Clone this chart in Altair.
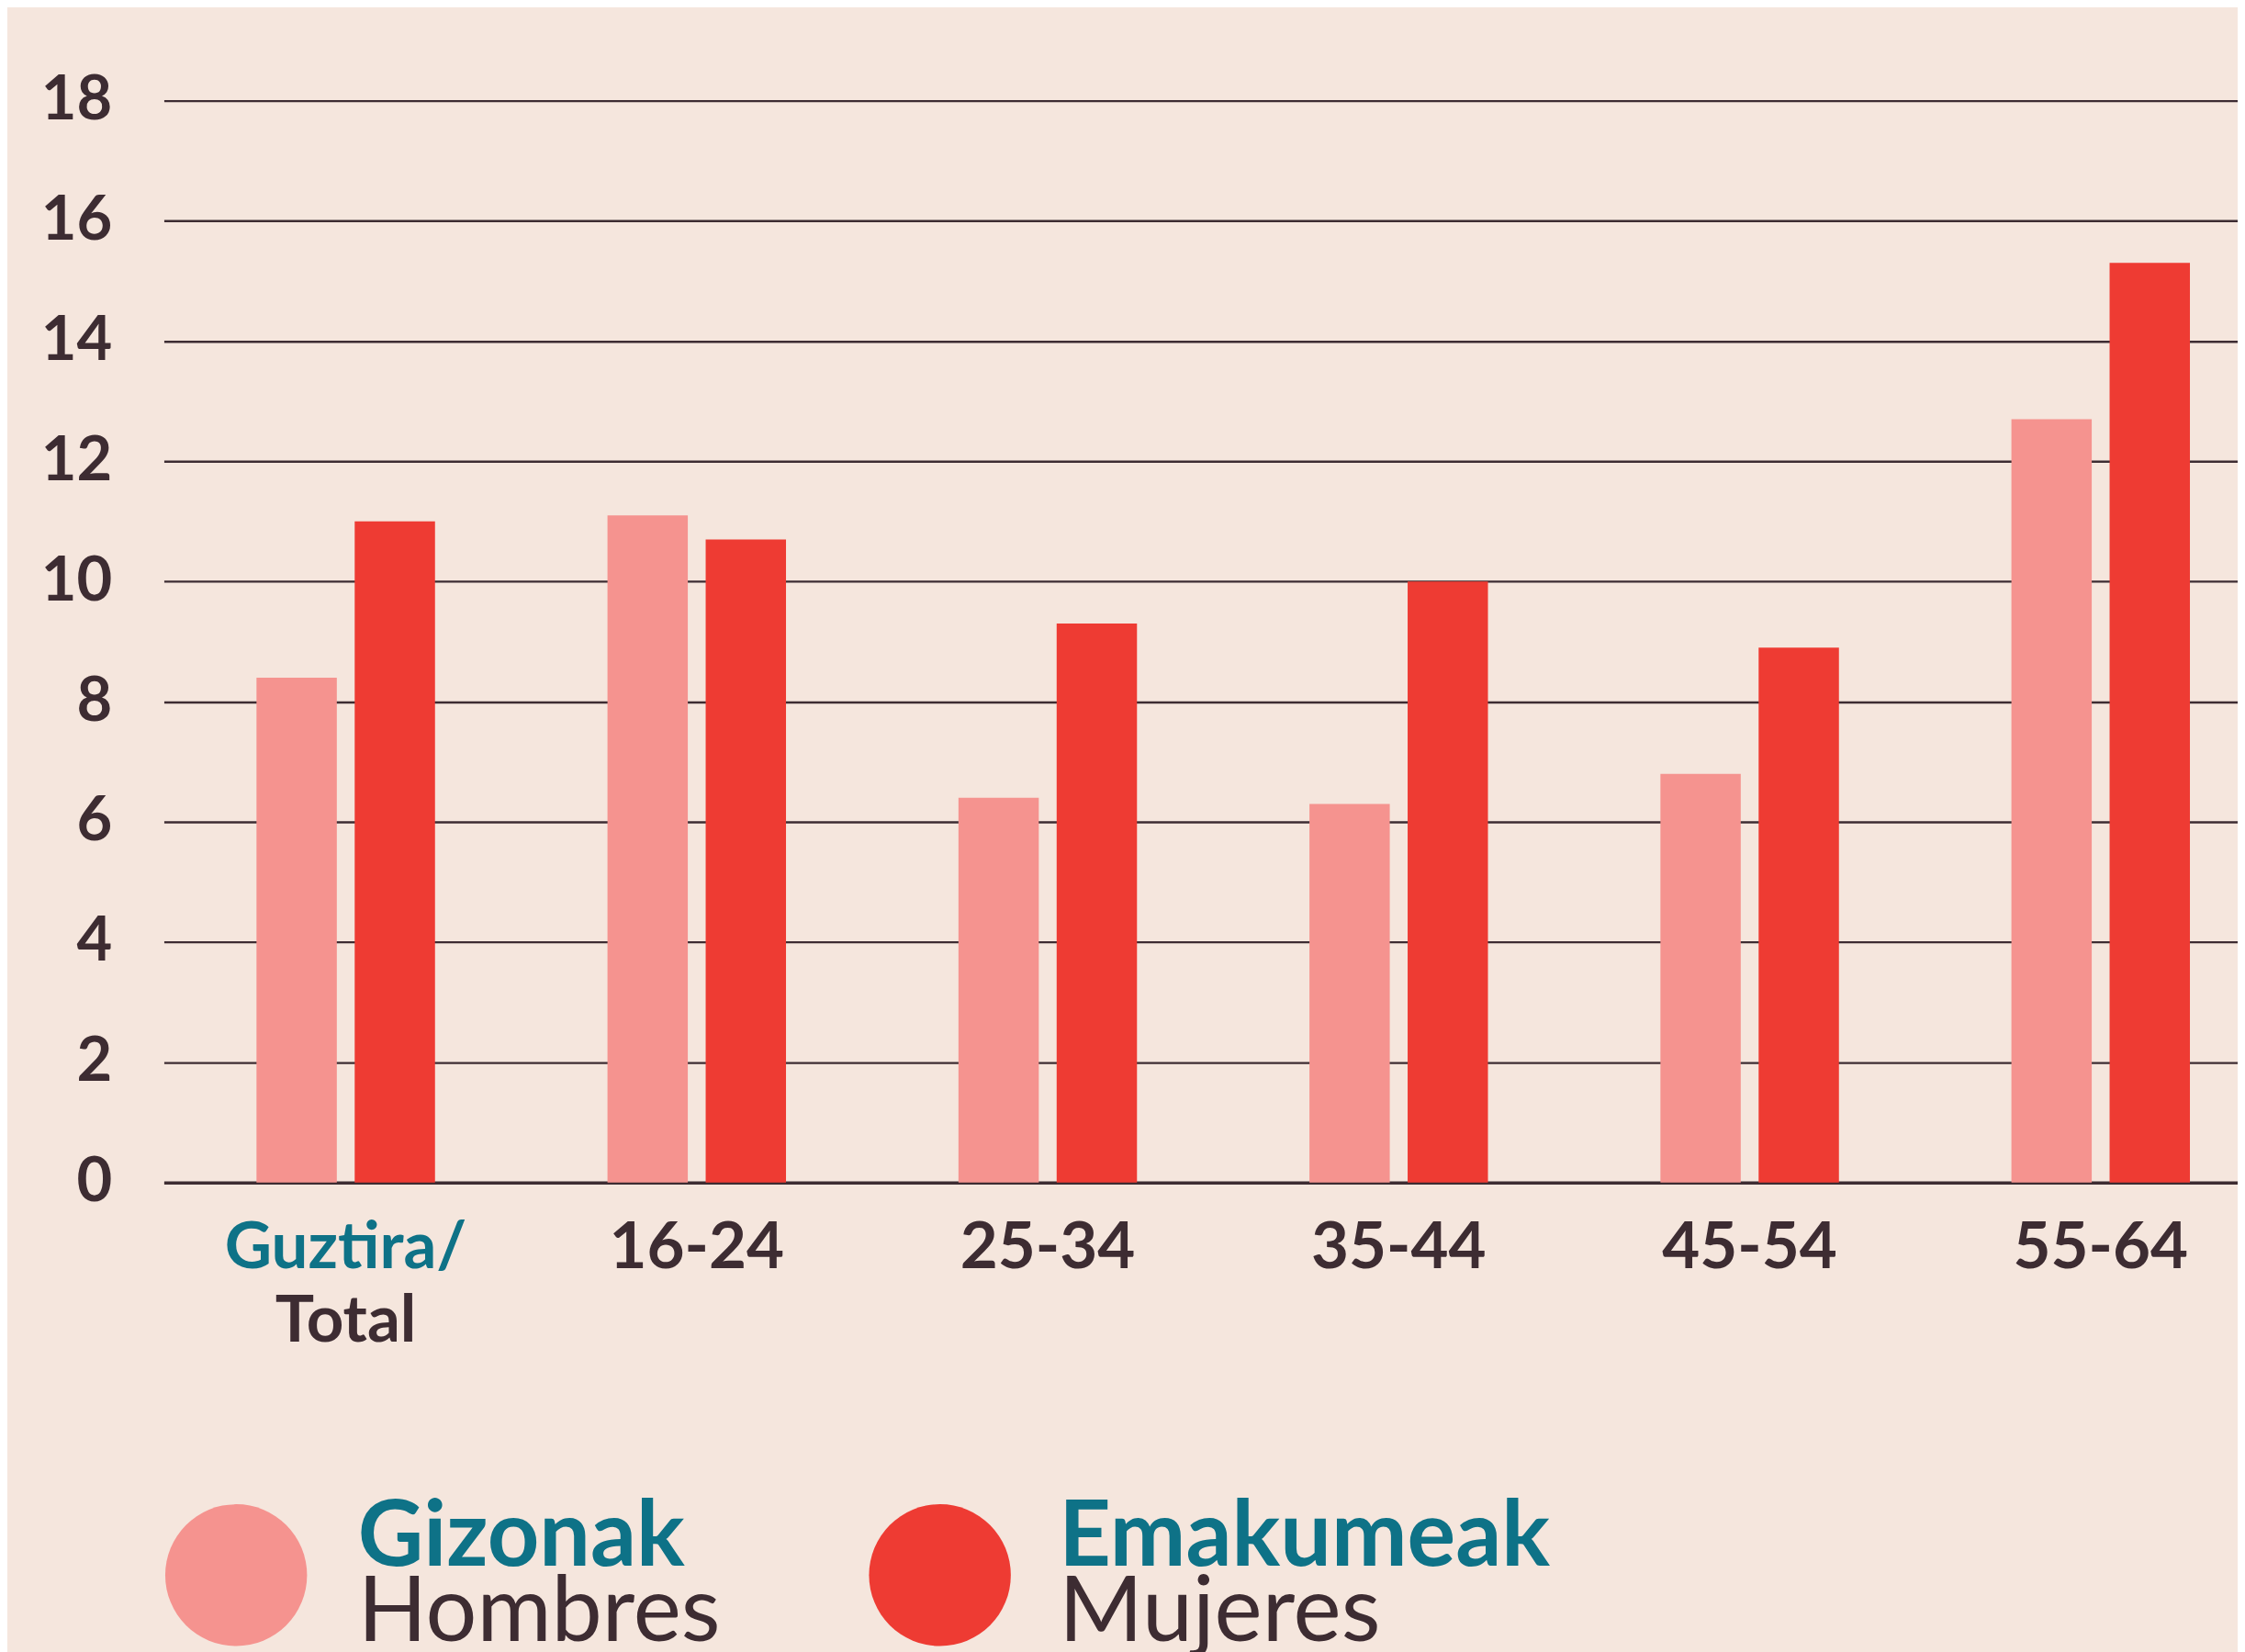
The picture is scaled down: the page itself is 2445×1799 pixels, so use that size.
import altair as alt
import pandas as pd

# ---- data ----
categories = ["Guztira/Total", "16-24", "25-34", "35-44", "45-54", "55-64"]
series = ["Gizonak", "Emakumeak"]
series_es = ["Hombres", "Mujeres"]
men = [8.4, 11.1, 6.4, 6.3, 6.8, 12.7]
women = [11.0, 10.7, 9.3, 10.0, 8.9, 15.3]
y_ticks = [0, 2, 4, 6, 8, 10, 12, 14, 16, 18]
first_label_top = "Guztira/"
first_label_bottom = "Total"

# ---- styling ----
BG = "#F5E6DD"
PINK = "#F5938F"
RED = "#EE3B33"
TEAL = "#0E7287"
DARK = "#3D2C32"
FONT = "Lato"

rows = []
for c, m, w in zip(categories, men, women):
    rows.append({"cat": c, "series": series[0], "value": m})
    rows.append({"cat": c, "series": series[1], "value": w})
df = pd.DataFrame(rows)

W, H = 2266, 1182

xscale = alt.Scale(domain=categories, paddingInner=0.4914, paddingOuter=0.2, align=0.66)
oscale = alt.Scale(domain=series, paddingInner=0.182, paddingOuter=0)
yscale = alt.Scale(domain=[0, 18], nice=False, zero=True)
cscale = alt.Scale(domain=series, range=[PINK, RED])

bars = alt.Chart(df).mark_bar().encode(
    x=alt.X(
        "cat:N",
        scale=xscale,
        sort=categories,
        axis=alt.Axis(
            title=None,
            ticks=False,
            tickSize=0,
            domain=True,
            domainColor=DARK,
            domainWidth=3.5,
            labelFont=FONT,
            labelFontSize=71,
            labelFontWeight="bold",
            labelAngle=0,
            labelBaseline="alphabetic",
            labelPadding=93,
            labelLimit=1000,
            labelExpr=f"datum.value == '{categories[0]}' ? '{first_label_top}' : datum.value",
            labelColor={
                "condition": {"test": f"datum.value == '{categories[0]}'", "value": TEAL},
                "value": DARK,
            },
            labelOverlap=False,
        ),
    ),
    xOffset=alt.XOffset("series:N", scale=oscale, sort=series),
    y=alt.Y(
        "value:Q",
        scale=yscale,
        axis=alt.Axis(
            title=None,
            values=y_ticks,
            ticks=False,
            tickSize=0,
            domain=False,
            grid=True,
            gridColor=DARK,
            gridWidth=2.4,
            labelFont=FONT,
            labelFontSize=67,
            labelFontWeight="bold",
            labelColor=DARK,
            labelPadding=57,
            labelLimit=1000,
            labelFlush=False,
            labelOverlap=False,
        ),
    ),
    color=alt.Color("series:N", scale=cscale, legend=None),
)

total_df = pd.DataFrame({"cat": [categories[0]], "txt": [first_label_bottom]})
total_text = alt.Chart(total_df).mark_text(
    font=FONT, fontSize=71, fontWeight="bold", color=DARK, align="center", baseline="alphabetic"
).encode(
    x=alt.X("cat:N", scale=xscale, sort=categories, bandPosition=0.5, title=None),
    y=alt.value(H + 174),
    text="txt:N",
)

legend_layers = []
circle_x = [79, 848]
text_x = [212, 978]
for i, (s, es) in enumerate(zip(series, series_es)):
    ldf = pd.DataFrame({"series": [s], "label": [s], "label2": [es]})
    legend_layers.append(
        alt.Chart(ldf).mark_circle(size=24000, opacity=1).encode(
            x=alt.value(circle_x[i]),
            y=alt.value(H + 429),
            color=alt.Color("series:N", scale=cscale, legend=None),
        )
    )
    legend_layers.append(
        alt.Chart(ldf).mark_text(
            font=FONT, fontSize=99, fontWeight="bold", color=TEAL, align="left", baseline="alphabetic"
        ).encode(x=alt.value(text_x[i]), y=alt.value(H + 419), text="label:N")
    )
    legend_layers.append(
        alt.Chart(ldf).mark_text(
            font=FONT, fontSize=99, fontWeight="normal", color=DARK, align="left", baseline="alphabetic"
        ).encode(x=alt.value(text_x[i]), y=alt.value(H + 501), text="label2:N")
    )

chart = alt.layer(bars, total_text, *legend_layers).properties(
    width=W,
    height=H,
    background=BG,
    padding={"left": 171, "top": 99, "right": 0, "bottom": 510},
    autosize=alt.AutoSizeParams(type="none"),
).configure_view(stroke=None)

chart.save("out.html", embed_options={"renderer": "svg", "actions": False})
